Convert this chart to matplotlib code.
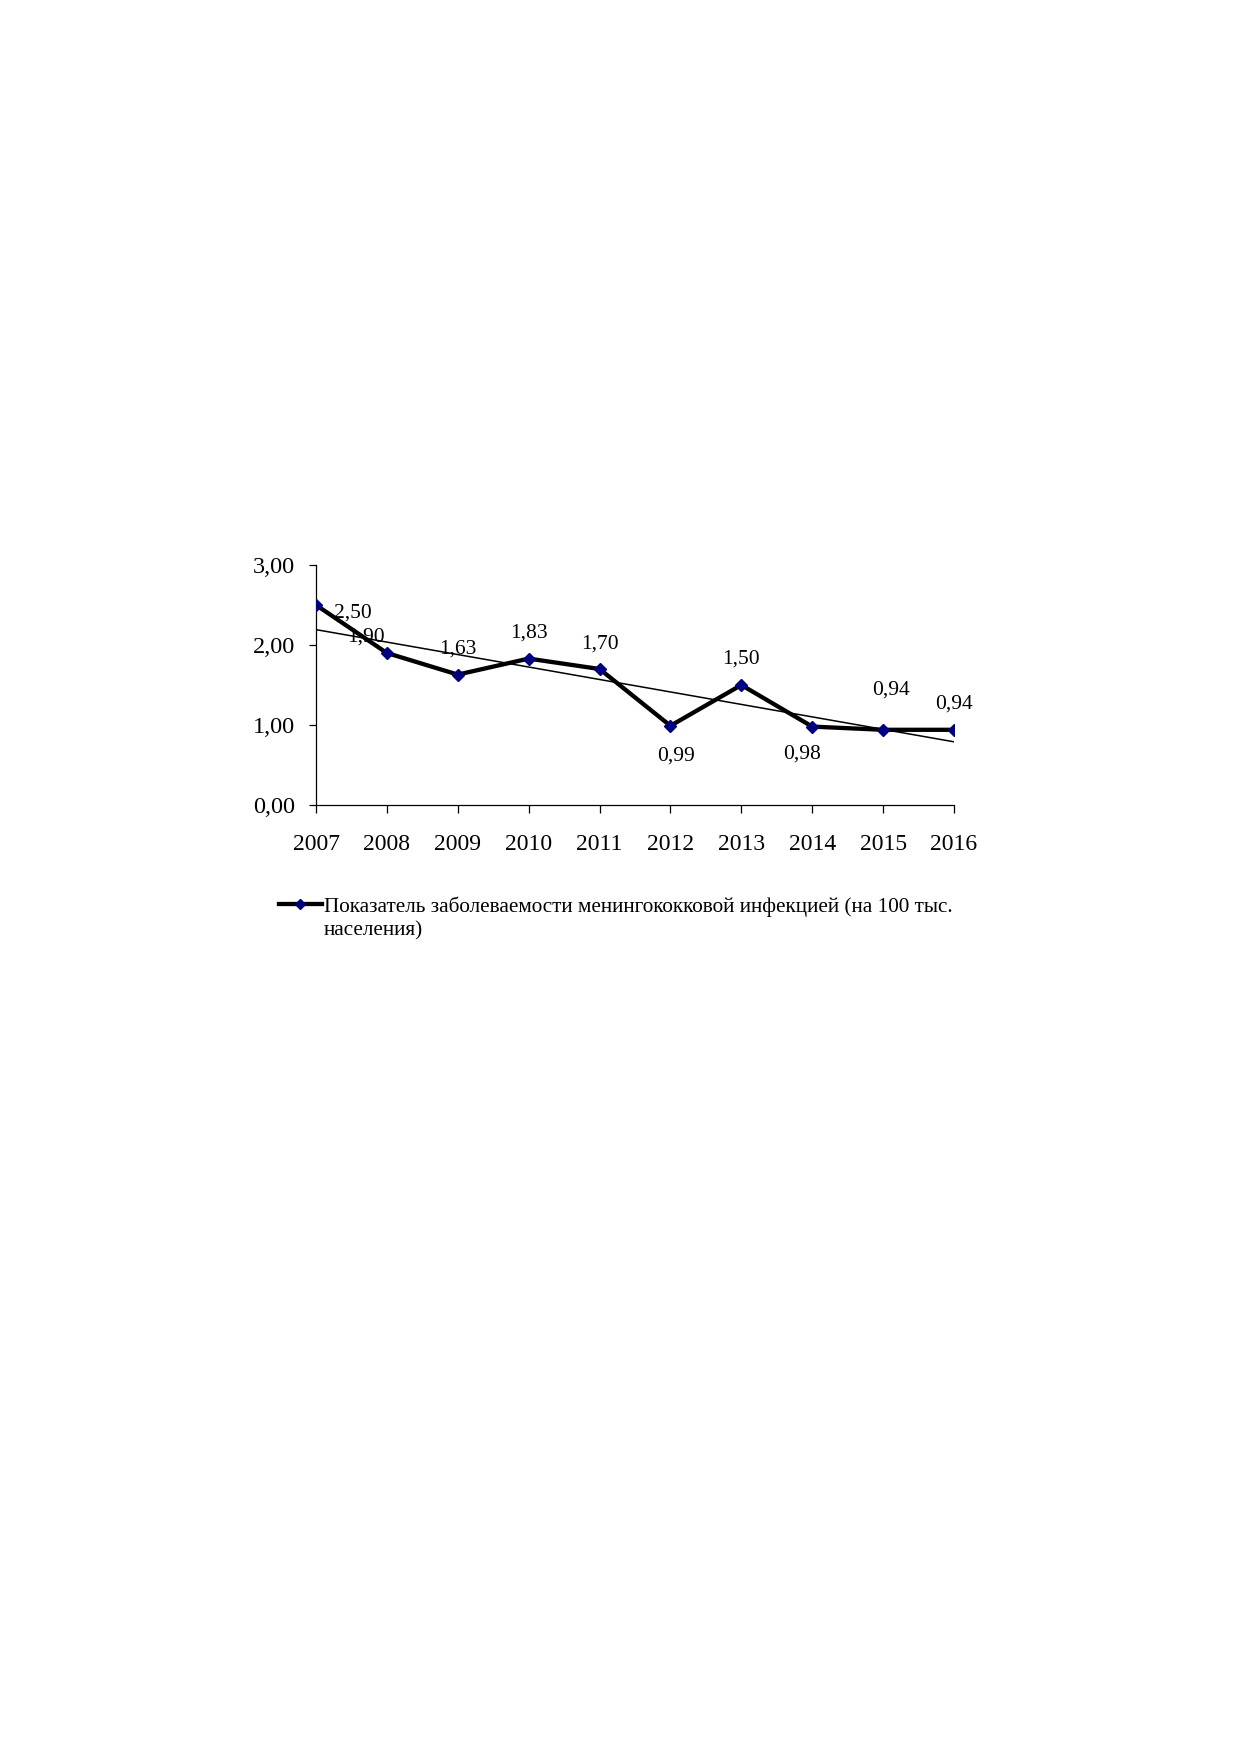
import matplotlib
matplotlib.use("Agg")
import matplotlib.pyplot as plt
from matplotlib.lines import Line2D
import numpy as np

years = ["2007", "2008", "2009", "2010", "2011", "2012", "2013", "2014", "2015", "2016"]
values = [2.50, 1.90, 1.63, 1.83, 1.70, 0.99, 1.50, 0.98, 0.94, 0.94]
yticks = [0.0, 1.0, 2.0, 3.0]
legend_label = "Показатель заболеваемости менингококковой инфекцией (на 100 тыс."
legend_label2 = "населения)"
# label offsets in pixels (dx, dy) relative to point
label_offsets = [(37, -8), (-21, 16), (0, 26), (0, 26), (0, 25),
                 (6, -30), (0, 26), (-10, -27), (8, 40), (0, 26)]

plt.rcParams['font.family'] = ['Liberation Serif', 'DejaVu Serif']

W, H = 1239, 1754
fig = plt.figure(figsize=(W / 100, H / 100), dpi=100)
fig.patch.set_facecolor("white")

left, right, top, bottom = 316, 954, 565, 805
ax = fig.add_axes([left / W, 1 - bottom / H, (right - left) / W, (bottom - top) / H])

x = np.arange(len(years))
ax.plot(x, values, color="black", lw=3.1, marker="D", markersize=6.5,
        markerfacecolor="#000080", markeredgecolor="#000080", zorder=3)

coef = np.polyfit(x, values, 1)
ax.plot(x, np.polyval(coef, x), color="black", lw=1.1, zorder=2)

for xi, v, (dx, dy) in zip(x, values, label_offsets):
    ax.annotate(f"{v:.2f}".replace(".", ","), (xi, v), xytext=(dx * 0.72, dy * 0.72),
                textcoords="offset points", ha="center", va="center", fontsize=15.5,
                color="black", zorder=4)

ax.set_xlim(0, len(years) - 1)
ax.set_ylim(0, 3)
ax.set_xticks(x)
ax.set_xticklabels(years, fontsize=17)
ax.set_yticks(yticks)
ax.set_yticklabels([f"{t:.2f}".replace(".", ",") for t in yticks], fontsize=17.5)
for s in ["top", "right"]:
    ax.spines[s].set_visible(False)
for s in ["left", "bottom"]:
    ax.spines[s].set_linewidth(0.9)
ax.tick_params(axis="y", length=5.2, width=0.9, pad=10)
ax.tick_params(axis="x", length=5.8, width=0.9, pad=15)
ax.set_facecolor("none")

# legend
ly = 1 - 904 / H
fig.add_artist(Line2D([279 / W, 322 / W], [ly, ly], transform=fig.transFigure,
                      color="black", lw=3.1))
fig.add_artist(Line2D([300 / W], [ly], transform=fig.transFigure, marker="D",
                      markersize=5.5, markerfacecolor="#000080", markeredgecolor="#000080",
                      linestyle="none"))
fig.text(324 / W, 1 - 912 / H, legend_label, fontsize=15.3, ha="left", va="baseline")
fig.text(324 / W, 1 - 935 / H, legend_label2, fontsize=15.3, ha="left", va="baseline")

fig.savefig("out.png", dpi=100, facecolor="white")
